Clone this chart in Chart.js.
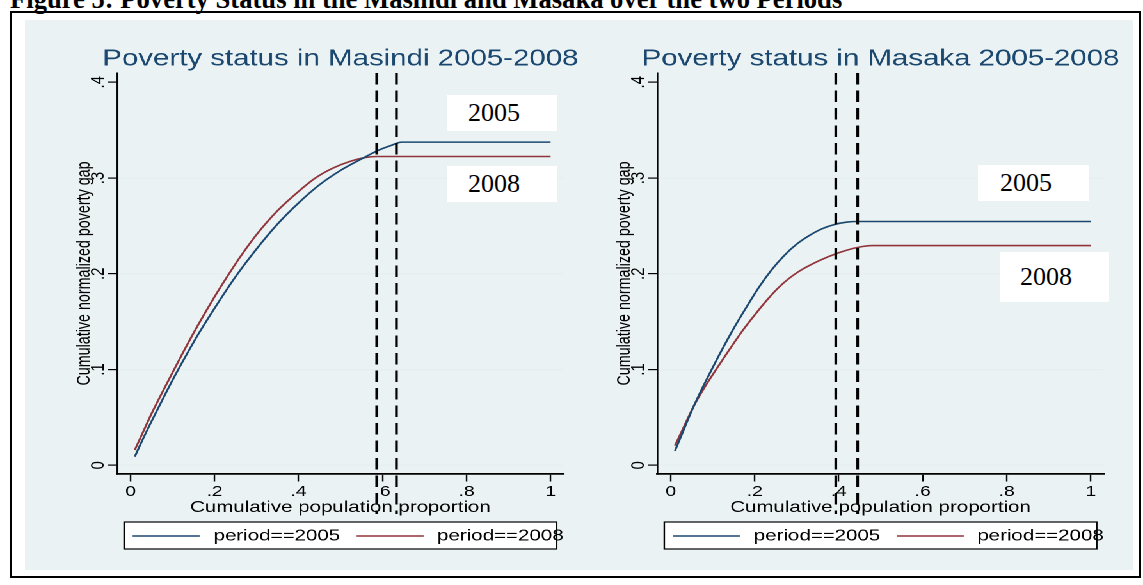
<!DOCTYPE html>
<html>
<head>
<meta charset="utf-8">
<script src="https://cdn.jsdelivr.net/npm/chart.js@4.4.1/dist/chart.umd.min.js"></script>
<style>
  html, body { margin: 0; padding: 0; background: #fff; }
  body { width: 1143px; height: 585px; position: relative; overflow: hidden; }
  #heading { position: absolute; left: 10px; top: -16px; font-family: "Liberation Serif", "Times New Roman", serif;
             font-weight: bold; font-size: 26.6px; line-height: 30px; white-space: nowrap; color: #000; }
  #frame { position: absolute; left: 10px; top: 11px; width: 1131px; height: 567px; border: 2px solid #000; box-sizing: border-box; }
  #graphbg { position: absolute; left: 25px; top: 20px; width: 1108px; height: 550px; background: #eaf2f3; }
  #stage { position: absolute; left: 0; top: 0; height: 585px; transform-origin: 0 0; }
  .panel { position: absolute; top: 20px; height: 545px; }
  .note { position: absolute; background: #fff; font-family: "Liberation Serif", "Times New Roman", serif;
          font-size: 26px; color: #000; box-sizing: border-box; white-space: nowrap; }
</style>
</head>
<body>
<div id="heading">Figure 5: Poverty Status in the Masindi and Masaka over the two Periods</div>
<div id="frame"></div>
<div id="graphbg"></div>
<div id="stage">
  <div class="panel" id="p1"><canvas id="masindi"></canvas></div>
  <div class="panel" id="p2"><canvas id="masaka"></canvas></div>
</div>
<div class="note" style="left:447px; top:95px; width:110px; height:36px; line-height:36px; padding-left:21px;">2005</div>
<div class="note" style="left:447px; top:166px; width:110px; height:36px; line-height:36px; padding-left:21px;">2008</div>
<div class="note" style="left:978px; top:165px; width:111px; height:36px; line-height:36px; padding-left:22px;">2005</div>
<div class="note" style="left:1000px; top:252px; width:109px; height:50px; line-height:50px; padding-left:20px;">2008</div>

<script>
// stata graph was pasted stretched sideways, so the charts are drawn narrow and scaled
var STRETCH = 1.28;

var seriesLabels = ['period==2005', 'period==2008'];
var panelTitles = ['Poverty status in Masindi 2005-2008', 'Poverty status in Masaka 2005-2008'];

var xTicks = [0, 0.2, 0.4, 0.6, 0.8, 1];
var xTickLabels = ['0', '.2', '.4', '.6', '.8', '1'];
var yTicks = [0, 0.1, 0.2, 0.3, 0.4];
var yTickLabels = ['0', '.1', '.2', '.3', '.4'];

// Masindi
var masindiX2005 = [0.01, 0.03, 0.05, 0.08, 0.10, 0.13, 0.16, 0.20, 0.25, 0.30, 0.35, 0.40, 0.45, 0.50, 0.55, 0.59, 0.62, 0.646, 1.00];
var masindiY2005 = [0.009, 0.028, 0.046, 0.072, 0.089, 0.113, 0.136, 0.164, 0.197, 0.226, 0.252, 0.274, 0.293, 0.308, 0.320, 0.329, 0.334, 0.3375, 0.3375];
var masindiX2008 = [0.01, 0.03, 0.05, 0.08, 0.10, 0.13, 0.16, 0.20, 0.23, 0.26, 0.30, 0.35, 0.40, 0.44, 0.48, 0.52, 0.56, 0.587, 1.00];
var masindiY2008 = [0.016, 0.035, 0.054, 0.080, 0.097, 0.122, 0.146, 0.176, 0.197, 0.217, 0.241, 0.266, 0.286, 0.300, 0.310, 0.317, 0.3215, 0.3225, 0.3225];
var masindiCutoffs = [0.586, 0.633];

// Masaka
var masakaX2005 = [0.01, 0.03, 0.05, 0.07, 0.094, 0.12, 0.15, 0.18, 0.21, 0.24, 0.27, 0.30, 0.33, 0.36, 0.39, 0.42, 0.445, 1.00];
var masakaY2005 = [0.015, 0.036, 0.057, 0.076, 0.097, 0.119, 0.143, 0.165, 0.186, 0.204, 0.219, 0.231, 0.240, 0.247, 0.2515, 0.254, 0.2546, 0.2546];
var masakaX2008 = [0.01, 0.03, 0.055, 0.08, 0.108, 0.14, 0.17, 0.20, 0.23, 0.26, 0.30, 0.35, 0.40, 0.45, 0.48, 1.00];
var masakaY2008 = [0.0205, 0.039, 0.062, 0.081, 0.100, 0.121, 0.140, 0.157, 0.173, 0.187, 0.201, 0.213, 0.222, 0.228, 0.2295, 0.2295];
var masakaCutoffs = [0.393, 0.445];

Chart.defaults.font.family = '"Liberation Sans", Arial, sans-serif';
Chart.defaults.color = '#000';

function toPoints(xs, ys) {
    return xs.map(function (x, i) { return {x: x, y: ys[i]}; });
}

// title centred over the plot, drawn by hand so it is not squeezed to the plot width
var panelTitlePlugin = {
    id: 'panelTitle',
    afterDraw: function (chart, args, opts) {
        var ctx = chart.ctx;
        var area = chart.chartArea;
        ctx.save();
        ctx.font = '23px "Liberation Sans", Arial';
        ctx.fillStyle = '#1a476f';
        ctx.textAlign = 'center';
        ctx.textBaseline = 'middle';
        ctx.fillText(opts.text, (area.left + area.right) / 2, 39);
        ctx.restore();
    }
};

// y labels are turned on their side like stata does
var yLabelPlugin = {
    id: 'yLabels',
    afterDraw: function (chart) {
        var ctx = chart.ctx;
        var yScale = chart.scales.y;
        var left = chart.chartArea.left;
        ctx.save();
        ctx.font = '15px "Liberation Sans", Arial';
        ctx.fillStyle = '#000';
        ctx.textAlign = 'center';
        ctx.textBaseline = 'middle';
        for (var i = 0; i < yTicks.length; i++) {
            ctx.save();
            ctx.translate(left - 19 / STRETCH, yScale.getPixelForValue(yTicks[i]));
            ctx.rotate(-Math.PI / 2);
            ctx.fillText(yTickLabels[i], 0, 0);
            ctx.restore();
        }
        ctx.restore();
    }
};

var cutoffPlugin = {
    id: 'cutoffs',
    afterDraw: function (chart, args, opts) {
        var ctx = chart.ctx;
        var area = chart.chartArea;
        ctx.save();
        ctx.strokeStyle = '#000';
        ctx.lineWidth = 2.1;
        ctx.setLineDash([11.5, 6]);
        opts.values.forEach(function (v) {
            var px = chart.scales.x.getPixelForValue(v);
            ctx.beginPath();
            ctx.moveTo(px, area.top);
            ctx.lineTo(px, area.bottom + 40);
            ctx.stroke();
        });
        ctx.restore();
    }
};

var boxLegendPlugin = {
    id: 'boxLegend',
    afterDraw: function (chart) {
        var ctx = chart.ctx;
        var x0 = chart.chartArea.left;
        var y0 = chart.chartArea.bottom;
        var k = 1 / STRETCH;
        var lineStart = [15.5, 239.5];
        var textStart = [96.5, 320];
        var cy = y0 + 62;
        ctx.save();
        ctx.fillStyle = '#fff';
        ctx.strokeStyle = '#000';
        ctx.lineWidth = 1.2;
        ctx.fillRect(x0 + 7 * k, y0 + 48, 432.5 * k, 27);
        ctx.strokeRect(x0 + 7 * k, y0 + 48, 432.5 * k, 27);
        ctx.font = '16px "Liberation Sans", Arial';
        ctx.textAlign = 'left';
        ctx.textBaseline = 'middle';
        chart.data.datasets.forEach(function (ds, i) {
            ctx.strokeStyle = ds.borderColor;
            ctx.lineWidth = 1.6;
            ctx.beginPath();
            ctx.moveTo(x0 + lineStart[i] * k, cy);
            ctx.lineTo(x0 + (lineStart[i] + 67) * k, cy);
            ctx.stroke();
            ctx.fillStyle = '#000';
            ctx.fillText(ds.label, x0 + textStart[i] * k, cy);
        });
        ctx.restore();
    }
};

function makePanel(canvasId, title, x05, y05, x08, y08, cutoffs) {
    var ctx = document.getElementById(canvasId).getContext('2d');
    return new Chart(ctx, {
        type: 'line',
        data: {
            datasets: [{
                label: seriesLabels[0],
                data: toPoints(x05, y05),
                borderColor: '#1a476f',
                borderWidth: 1.6,
                pointRadius: 0,
                cubicInterpolationMode: 'monotone',
                fill: false
            }, {
                label: seriesLabels[1],
                data: toPoints(x08, y08),
                borderColor: '#90353b',
                borderWidth: 1.6,
                pointRadius: 0,
                cubicInterpolationMode: 'monotone',
                fill: false
            }]
        },
        options: {
            responsive: true,
            maintainAspectRatio: false,
            animation: false,
            devicePixelRatio: 2,
            layout: { padding: { left: 0, right: 37 / STRETCH, top: 53, bottom: 47.6 } },
            plugins: {
                legend: { display: false },
                tooltip: { enabled: false },
                title: { display: false },
                panelTitle: { text: title },
                cutoffs: { values: cutoffs }
            },
            scales: {
                x: {
                    type: 'linear',
                    min: -0.032,
                    max: 1.031,
                    afterBuildTicks: function (s) { s.ticks = xTicks.map(function (v) { return {value: v}; }); },
                    afterFit: function (s) { s.height = 43.4; },
                    grid: { color: 'rgba(0,0,0,0)', tickColor: '#000', tickLength: 7.5, tickWidth: 1.2 },
                    border: { display: true, color: '#000', width: 1.8 },
                    ticks: {
                        padding: 1.5,
                        autoSkip: false,
                        maxRotation: 0,
                        color: '#000',
                        font: { size: 15 },
                        callback: function (v, i) { return xTickLabels[i]; }
                    },
                    title: { display: true, text: 'Cumulative population proportion', color: '#000', font: { size: 16 }, padding: 0 }
                },
                y: {
                    type: 'linear',
                    min: -0.0091,
                    max: 0.4097,
                    afterBuildTicks: function (s) { s.ticks = yTicks.map(function (v) { return {value: v}; }); },
                    afterFit: function (s) { s.width = 91.5 / STRETCH; },
                    grid: {
                        color: function (c) { return c.tick && c.tick.value === 0.4 ? 'rgba(0,0,0,0)' : '#e6eef0'; },
                        lineWidth: 1.2,
                        tickColor: '#000',
                        tickLength: 7.4,
                        tickWidth: 1.2
                    },
                    border: { display: true, color: '#000', width: 1.3 },
                    ticks: { display: false },
                    title: {
                        display: true,
                        text: 'Cumulative normalized poverty gap',
                        color: '#000',
                        font: { size: 14.3 },
                        padding: { top: 37.5, bottom: 0 }
                    }
                }
            }
        },
        plugins: [panelTitlePlugin, yLabelPlugin, cutoffPlugin, boxLegendPlugin]
    });
}

// lay the stage out in picture pixels divided by the stretch
var stage = document.getElementById('stage');
stage.style.width = (1143 / STRETCH) + 'px';
stage.style.transform = 'scaleX(' + STRETCH + ')';
var p1 = document.getElementById('p1');
var p2 = document.getElementById('p2');
p1.style.left = (25 / STRETCH) + 'px';
p2.style.left = (566 / STRETCH) + 'px';
p1.style.width = p2.style.width = (575 / STRETCH) + 'px';

makePanel('masindi', panelTitles[0], masindiX2005, masindiY2005, masindiX2008, masindiY2008, masindiCutoffs);
makePanel('masaka', panelTitles[1], masakaX2005, masakaY2005, masakaX2008, masakaY2008, masakaCutoffs);
</script>
</body>
</html>
